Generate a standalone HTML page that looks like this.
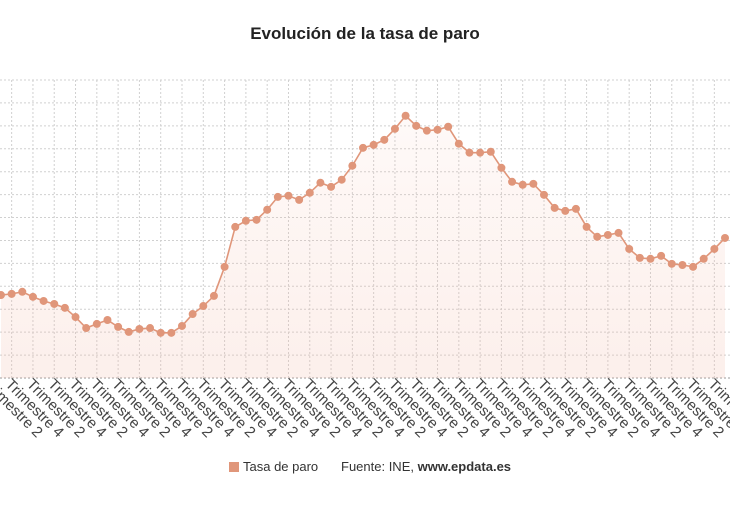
<!DOCTYPE html>
<html><head><meta charset="utf-8"><style>
body{margin:0;background:#fff;width:730px;height:500px;overflow:hidden;font-family:"Liberation Sans",sans-serif}
</style></head><body>
<svg width="730" height="500" xmlns="http://www.w3.org/2000/svg">
<defs><linearGradient id="fg" x1="0" y1="0" x2="0" y2="1">
<stop offset="0" stop-color="#f3b8a6" stop-opacity="0.08"/><stop offset="1" stop-color="#f3b8a6" stop-opacity="0.22"/></linearGradient></defs>
<text x="365" y="39" text-anchor="middle" font-size="17" font-weight="bold" fill="#222">Evolución de la tasa de paro</text>
<g id="grid"></g><g id="plot"></g><g id="xlabels"></g>
<g>
<rect x="229" y="462" width="10" height="10" fill="#e0967a"/>
<text x="243" y="471" font-size="13" fill="#333">Tasa de paro</text>
<text x="341" y="471" font-size="13" fill="#333">Fuente: INE, <tspan font-weight="bold">www.epdata.es</tspan></text>
</g>
</svg>
<script>
const values=[3.62,3.67,3.76,3.54,3.36,3.23,3.06,2.66,2.18,2.36,2.53,2.23,2.01,2.14,2.18,1.97,1.97,2.27,2.79,3.14,3.58,4.85,6.59,6.86,6.90,7.34,7.90,7.95,7.77,8.08,8.52,8.34,8.65,9.26,10.04,10.17,
10.39,10.87,11.44,11.00,10.79,10.83,10.96,10.22,9.83,9.83,9.87,9.17,8.56,8.43,8.47,7.99,7.42,7.29,7.38,6.59,6.16,6.24,6.33,5.63,5.24,5.20,5.33,4.98,4.93,4.85,5.20,5.63,6.11];
const tickLabels=["Trimestre 2","Trimestre 4"];
const yMax=13;
const NS="http://www.w3.org/2000/svg";
const x0=1,x1=725,yTop=80,yBot=378;
const xs=i=>x0+(x1-x0)*i/(values.length-1);
const ys=v=>yBot-(yBot-yTop)*v/yMax;
function mk(t,a,p){const e=document.createElementNS(NS,t);for(const k in a)e.setAttribute(k,a[k]);p.appendChild(e);return e;}
const grid=document.getElementById('grid'),plot=document.getElementById('plot'),xl=document.getElementById('xlabels');
for(let k=0;k<=yMax;k++){const l=mk('line',{x1:0,x2:730,y1:ys(k),y2:ys(k),stroke:k==0?'#999':'#d0d0d0','stroke-dasharray':'2,2'},grid);

}
for(let i=-1;i<values.length;i+=2){const x=xs(i);
const l=mk('line',{x1:x,x2:x,y1:yTop,y2:yBot,stroke:'#d0d0d0','stroke-dasharray':'2,2'},grid);


const ax=x-7,ay=yBot+7;
const t=mk('text',{x:ax,y:ay,'font-size':15,fill:'#444',transform:`rotate(45 ${ax} ${ay})`},xl);
t.textContent=tickLabels[((i+1)/2)%2];

}
let d=values.map((v,i)=>(i?'L':'M')+xs(i)+','+ys(v)).join('');
const area=mk('path',{d:d+`L${xs(values.length-1)},${yBot}L${xs(0)},${yBot}Z`,fill:'url(#fg)'},plot);


const line=mk('path',{d:d,fill:'none',stroke:'#e0967a','stroke-width':1.6},plot);


values.forEach((v,i)=>{const c=mk('circle',{cx:xs(i),cy:ys(v),r:4,fill:'#e0967a'},plot);

});
</script>
</body></html>
